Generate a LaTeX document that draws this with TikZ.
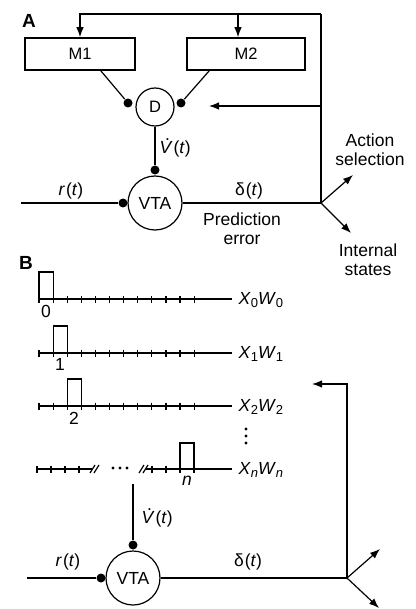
\documentclass[tikz,border=0pt]{standalone}
\usepackage{fontspec}
\setmainfont{Liberation Sans}
\usetikzlibrary{arrows.meta}
\newcommand\Vd{\rlap{\hspace{0.32em}\raisebox{0.74em}{.}}\textit{V\/}}
\newcommand\sbs[1]{\raisebox{-0.4ex}{\fontsize{13}{13}\selectfont #1}}
\newcommand\ofT{\kern1pt(\textit{t\/})}
\begin{document}
\begin{tikzpicture}[x=1pt,y=-1pt,
  font=\fontsize{17.5}{19}\selectfont,
  line width=1.2pt,
  arr/.style={-{Latex[length=10pt,width=7.5pt]}},
  box/.style={draw,line width=1.6pt,minimum width=110pt,minimum height=32pt,inner sep=0pt,font=\fontsize{16.5}{19}\selectfont},
  unit/.style={circle,draw,line width=1.2pt,inner sep=0pt},
  syn/.style={circle,fill,inner sep=0pt,minimum size=9pt},
  lab/.style={inner sep=0pt},
  panel/.style={font=\fontsize{19}{19}\selectfont\bfseries,inner sep=0pt},
  sdot/.style={circle,fill,inner sep=0pt,minimum size=3.4pt}]
\useasboundingbox (0,0) rectangle (415,609);

% ---------------- Panel A ----------------
\node[panel] (pA) at (29,21) {A};
\node[box] (M1) at (80,54) {M1};
\node[box,minimum width=118pt] (M2) at (246,54) {M2};
\node[unit,minimum size=38pt,font=\fontsize{16.5}{19}\selectfont] (D) at (155,107) {D};
\node[unit,minimum size=54pt,font=\fontsize{17.5}{19}\selectfont] (VTA) at (155,203) {VTA};
\node[syn] (sl) at (128,103) {};
\node[syn] (sr) at (181,103) {};
\node[syn] (sv) at (155,170) {};
\node[syn] (sin) at (123,203) {};
\coordinate (inA) at (21,203);
\coordinate (tr) at (321,14);
\coordinate (jA) at (321,203);
\coordinate (dtip) at (209,106);
\coordinate (actA) at (353,175);
\coordinate (intA) at (351,233);

\draw (tr) -- (jA);
\draw[arr] (tr) -| (M1.north);
\draw[arr] ([xshift=-8pt]M2.north |- tr) -- ([xshift=-8pt]M2.north);
\draw[arr] (tr |- dtip) -- (dtip);
\draw ([xshift=-35pt]M1.south east) -- (sl);
\draw ([xshift=23pt]M2.south west) -- (sr);
\draw (D) -- (sv);
\draw (inA) -- (sin);
\draw (VTA) -- (jA);
\draw[arr] (jA) -- (actA);
\draw[arr] (jA) -- (intA);

\node[lab,anchor=west] (vdA) at (159,148) {\Vd\ofT};
\node[lab] (rA) at (71,191) {\textit{r\/}\ofT};
\node[lab] (dA) at (249,191) {δ\ofT};
\node[lab,align=center] (pe) at (242,229) {Prediction\\error};
\node[lab,align=center] (as) at (370,150) {Action\\selection};
\node[lab,align=center] (is) at (368,260) {Internal\\states};

% ---------------- Panel B ----------------
\node[panel] (pB) at (26,263) {B};

% trace 0
\draw (39,299) -- (232,299);
\foreach \k in {0,...,11} \draw (39+14.1*\k,295.5) -- (39+14.1*\k,302.5);
\draw (39,299) -- (39,272) -- (53.1,272) -- (53.1,299);
\node[lab] (t0) at (46,311) {0};
\node[lab,anchor=west] (x0) at (238,300) {\textit{X\/}\sbs{0}\textit{W\/}\sbs{0}};

% trace 1
\draw (39,353) -- (232,353);
\foreach \k in {0,...,11} \draw (39+14.1*\k,349.5) -- (39+14.1*\k,356.5);
\draw (53.1,353) -- (53.1,326) -- (67.2,326) -- (67.2,353);
\node[lab] (t1) at (60,364) {1};
\node[lab,anchor=west] (x1) at (238,354) {\textit{X\/}\sbs{1}\textit{W\/}\sbs{1}};

% trace 2
\draw (39,406) -- (232,406);
\foreach \k in {0,...,11} \draw (39+14.1*\k,402.5) -- (39+14.1*\k,409.5);
\draw (67.2,406) -- (67.2,379) -- (81.3,379) -- (81.3,406);
\node[lab] (t2) at (74,418) {2};
\node[lab,anchor=west] (x2) at (238,407) {\textit{X\/}\sbs{2}\textit{W\/}\sbs{2}};

% vertical ellipsis
\node[sdot] (vd1) at (246,429) {};
\node[sdot] (vd2) at (246,436) {};
\node[sdot] (vd3) at (246,443) {};

% trace n
\draw (37,469) -- (92,469);
\foreach \x in {37,51,65,79} \draw (\x,465.5) -- (\x,472.5);
\draw (90,473) -- (95,465);
\draw (94,473) -- (99,465);
\node[sdot] (hd1) at (113,468) {};
\node[sdot] (hd2) at (120,468) {};
\node[sdot] (hd3) at (127,468) {};
\draw (139,473) -- (144,465);
\draw (143,473) -- (148,465);
\draw (146,469) -- (232,469);
\foreach \x in {152,166,180,194} \draw (\x,465.5) -- (\x,472.5);
\draw (180,469) -- (180,443) -- (194,443) -- (194,469);
\node[lab] (tn) at (187,481) {\textit{n}};
\node[lab,anchor=west] (xn) at (238,470) {\textit{X\/}\sbs{\textit{n}}\textit{W\/}\sbs{\textit{n}}};

% lower VTA
\coordinate (vtop) at (133,484);
\node[unit,minimum size=54pt,font=\fontsize{17.5}{19}\selectfont] (VTA2) at (133,578) {VTA};
\node[syn] (sv2) at (133,545) {};
\node[syn] (sin2) at (101,578) {};
\coordinate (inB) at (27,578);
\coordinate (jB) at (347,578);
\coordinate (fbB) at (347,384);
\coordinate (fbtip) at (312,384);
\coordinate (actB) at (380,549);
\coordinate (intB) at (379,608);

\draw (vtop) -- (sv2);
\draw (inB) -- (sin2);
\draw (VTA2) -- (jB);
\draw[arr] (jB) -- (fbB) -- (fbtip);
\draw[arr] (jB) -- (actB);
\draw[arr] (jB) -- (intB);

\node[lab,anchor=west] (vdB) at (141,518) {\Vd\ofT};
\node[lab] (rB) at (68,562) {\textit{r\/}\ofT};
\node[lab] (dB) at (248,562) {δ\ofT};
\end{tikzpicture}
\end{document}
